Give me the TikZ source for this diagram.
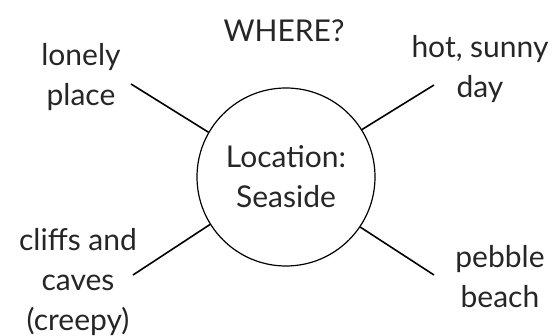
\documentclass[tikz,border=0pt]{standalone}
\usepackage{fontspec}
\setmainfont{Lato}
\begin{document}
\begin{tikzpicture}[x=1pt, y=-1pt, every node/.style={font=\fontsize{30}{40}\selectfont, inner sep=0pt, align=center, text=black!85},
    spoke/.style={line width=1.6pt, black}]
    \useasboundingbox (0,0) rectangle (554,336);
    \node[draw, circle, line width=1.2pt, minimum size=178pt] (loc) at (286,177) {Location:\\Seaside};
    \node (where) at (284,31) {WHERE?};
    \node (lonely) at (81,77) {lonely\\place};
    \node (sunny) at (480,69) {hot, sunny\\day};
    \node (cliffs) at (78,282) {cliffs and\\caves\\(creepy)};
    \node (pebble) at (500,277) {pebble\\beach};
    \coordinate (endnw) at (131,84);
    \coordinate (endne) at (434,85);
    \coordinate (endsw) at (133,275);
    \coordinate (endse) at (434,275);
    \draw[spoke] (loc.150) -- (endnw);
    \draw[spoke] (loc.32) -- (endne);
    \draw[spoke] (loc.212) -- (endsw);
    \draw[spoke] (loc.326) -- (endse);
\end{tikzpicture}
\end{document}
